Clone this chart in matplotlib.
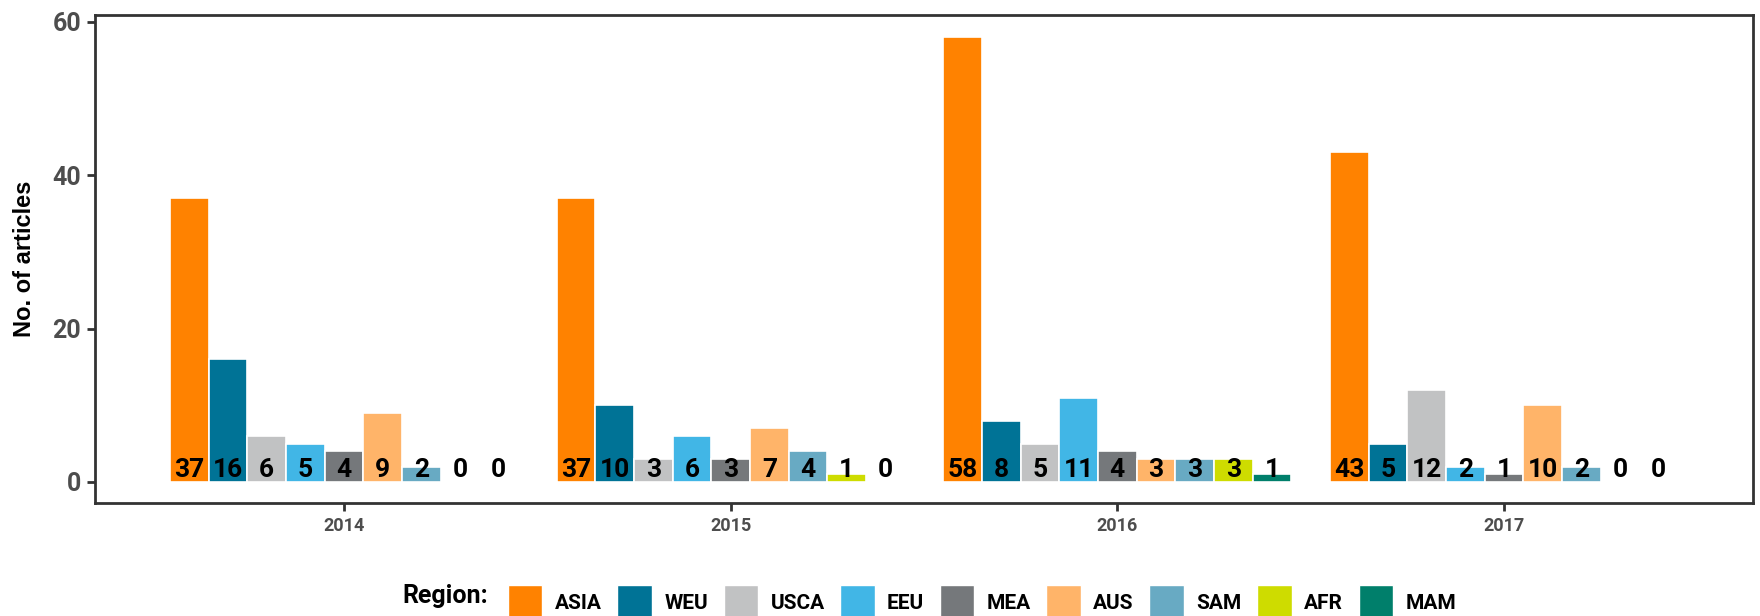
# Articles per region and year - grouped bar chart
import numpy as np
import matplotlib.pyplot as plt
from matplotlib.patches import Patch

years = ["2014", "2015", "2016", "2017"]
regions = ["ASIA", "WEU", "USCA", "EEU", "MEA", "AUS", "SAM", "AFR", "MAM"]
colors = ["#FF8200", "#007396", "#C1C2C3", "#41B6E6", "#75787B",
          "#FFB469", "#68AAC3", "#CEDC00", "#007F6B"]

asia = [37, 37, 58, 43]
weu = [16, 10, 8, 5]
usca = [6, 3, 5, 12]
eeu = [5, 6, 11, 2]
mea = [4, 3, 4, 1]
aus = [9, 7, 3, 10]
sam = [2, 4, 3, 2]
afr = [0, 1, 3, 0]
mam = [0, 0, 1, 0]
series = [asia, weu, usca, eeu, mea, aus, sam, afr, mam]

plt.rcParams["font.family"] = ["Roboto", "DejaVu Sans"]
plt.rcParams["font.weight"] = "bold"

fig = plt.figure(figsize=(17.6, 6.16), dpi=100)
ax = fig.add_axes([95 / 1760, 1 - 503 / 616, (1753 - 95) / 1760, (503 - 15) / 616])

x = np.arange(1, len(years) + 1)
bw = 0.1
for i, (reg, vals, col) in enumerate(zip(regions, series, colors)):
    pos = x + (i - 4) * bw
    ax.bar(pos, vals, width=bw, color=col, edgecolor="white", linewidth=1.2, label=reg)
    for px, v in zip(pos, vals):
        ax.text(px, 0.6, str(v), ha="center", va="baseline", fontsize=19,
                fontweight="bold", color="black")

ax.set_xlim(0.356, 4.644)
ax.set_ylim(-2.75, 60.9)
ax.set_xticks(x)
ax.set_xticklabels(years)
ax.set_yticks([0, 20, 40, 60])
for lab in ax.get_xticklabels():
    lab.set_fontsize(13)
    lab.set_color("#4D4D4D")
    lab.set_fontweight("bold")
for lab in ax.get_yticklabels():
    lab.set_fontsize(18)
    lab.set_color("#4D4D4D")
    lab.set_fontweight("bold")
ax.tick_params(axis="both", length=6, width=2, color="#333333", pad=4)
for sp in ax.spines.values():
    sp.set_color("#333333")
    sp.set_linewidth(2)

ax.set_ylabel("No. of articles", fontsize=17, fontweight="bold",
              family=["Liberation Sans", "DejaVu Sans"], labelpad=12)

handles = [Patch(facecolor=c, edgecolor="white", label=r) for r, c in zip(regions, colors)]
fig.legend(handles=handles, loc="center", bbox_to_anchor=(0.558, 0.022), ncol=9,
           frameon=False, fontsize=15, handlelength=1.65, handleheight=2.2,
           handletextpad=0.6, columnspacing=0.75, borderpad=0, borderaxespad=0)
fig.text(488 / 1760, 0.032, "Region:", ha="right", va="center", fontsize=18,
         fontweight="bold")

fig.savefig("out.png", dpi=100)
plt.close(fig)
